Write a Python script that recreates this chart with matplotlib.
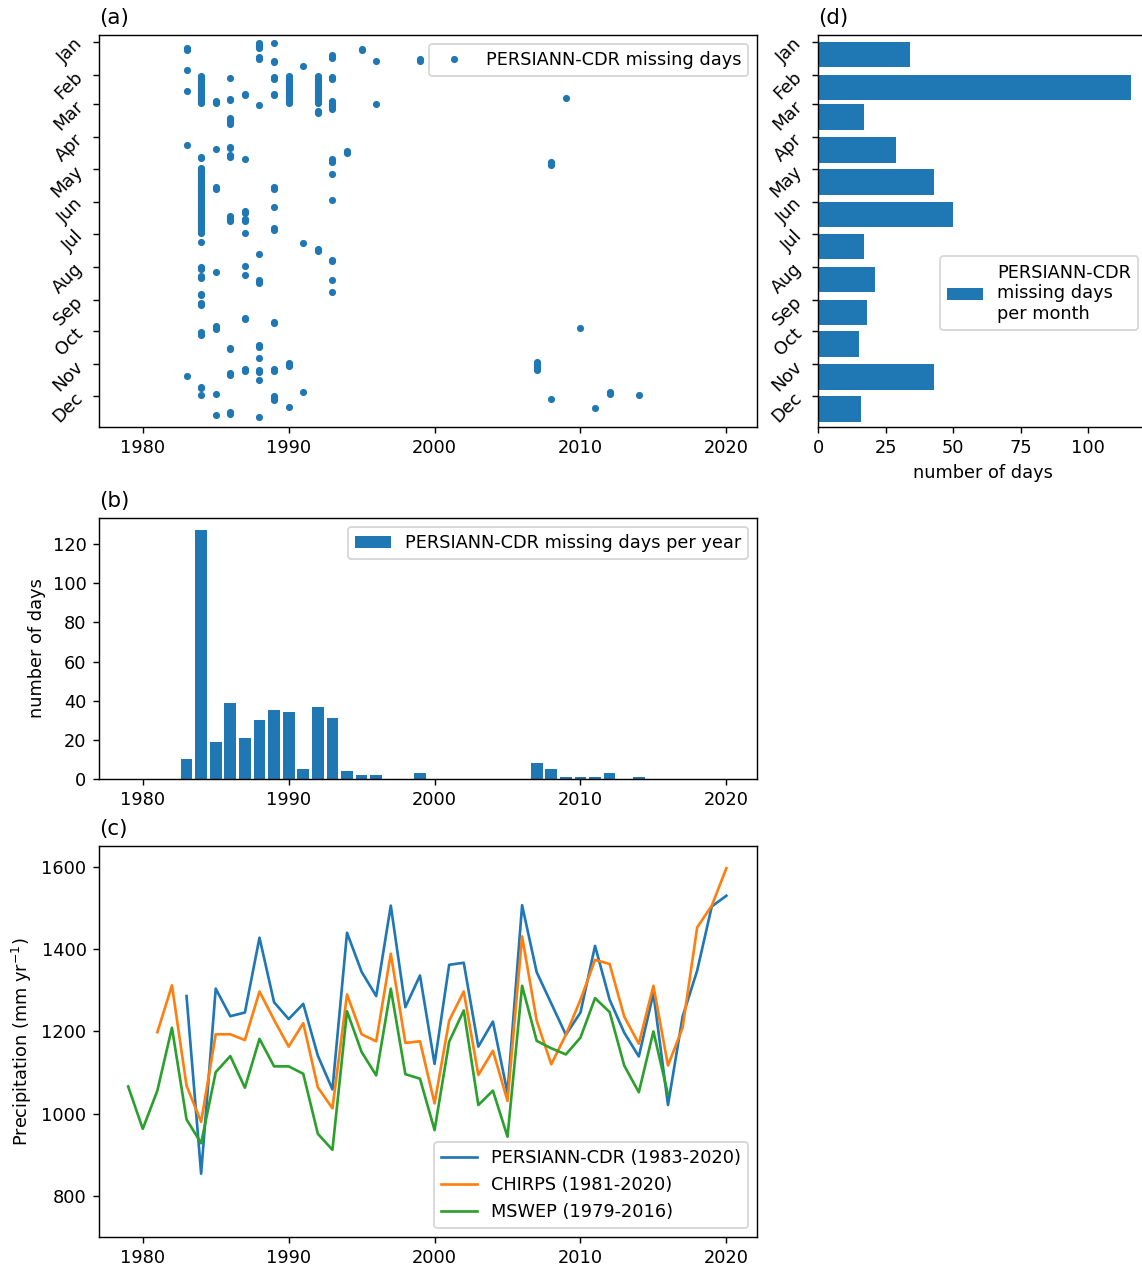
import matplotlib
matplotlib.use('Agg')
import matplotlib.pyplot as plt
import numpy as np

# ---------------- data ----------------
# (a) missing days of PERSIANN-CDR: day-of-year for each year
missing_days = {
    1983: [7, 8, 9, 28, 47, 98, 316],
    1984: [33, 34, 35, 36, 37, 38, 39, 40, 41, 42, 43, 44, 45, 46, 47, 48, 49, 50, 51, 52, 53, 54, 55, 56,
           57, 58, 59, 110, 111,
           120, 121, 122, 123, 124, 125, 126, 127, 128, 129, 130, 131, 132, 133, 134, 135, 136, 137, 138,
           139, 140, 141, 142, 143, 144, 145, 146, 147, 148, 149, 150, 151, 152, 153, 154, 155, 156, 157,
           158, 159, 160, 161, 162, 163, 164, 165, 166, 167, 168, 169, 170, 171, 172, 173, 174, 175, 176,
           177, 178, 179, 180, 181,
           190, 213, 214, 215, 222, 223, 224, 239, 240, 247, 248, 249, 275, 276, 277, 326, 327, 334],
    1985: [57, 58, 59, 102, 138, 139, 140, 218, 269, 270, 271, 272, 333, 353],
    1986: [35, 55, 56, 73, 74, 75, 76, 77, 78, 79, 100, 101, 108, 109, 110, 165, 166, 167, 168, 169, 170,
           290, 291, 313, 314, 315, 350, 351, 352],
    1987: [50, 51, 112, 161, 162, 168, 169, 170, 181, 212, 221, 261, 262, 309, 310, 311],
    1988: [2, 3, 4, 5, 6, 7, 15, 16, 17, 61, 201, 226, 227, 228, 287, 288, 289, 299, 310, 311, 312, 320, 355],
    1989: [2, 19, 20, 34, 35, 36, 50, 51, 138, 139, 140, 157, 177, 178, 265, 266, 309, 310, 311,
           335, 336, 337, 338, 339],
    1990: [33, 34, 35, 36, 37, 38, 39, 40, 41, 42, 43, 44, 45, 46, 47, 48, 49, 50, 51, 52, 53, 54, 55, 56,
           57, 58, 59, 304, 305, 306, 307, 345],
    1991: [24, 191, 331],
    1992: [33, 34, 35, 36, 37, 38, 39, 40, 41, 42, 43, 44, 45, 46, 47, 48, 49, 50, 51, 52, 53, 54, 55, 56,
           57, 58, 59, 66, 67, 68, 196, 197, 198],
    1993: [14, 15, 16, 34, 35, 36, 57, 58, 59, 60, 61, 62, 63, 64, 112, 113, 114, 126, 150, 207, 208, 226, 237],
    1994: [104, 105, 106],
    1995: [8, 9],
    1996: [19, 60],
    1999: [17, 18, 19],
    2007: [303, 304, 305, 306, 307, 308, 309, 310],
    2008: [114, 115, 116, 117, 338],
    2009: [54],
    2010: [271],
    2011: [346],
    2012: [331, 332, 333],
    2014: [334],
}

# (b) missing days per year
bar_years = [1983, 1984, 1985, 1986, 1987, 1988, 1989, 1990, 1991, 1992, 1993, 1994, 1995, 1996,
             1999, 2007, 2008, 2009, 2010, 2011, 2012, 2014]
bar_counts = [10, 127, 19, 39, 21, 30, 35, 34, 5, 37, 31, 4, 2, 2,
              3, 8, 5, 1, 1, 1, 3, 1]

# (d) missing days per month
month_labels = ['Jan', 'Feb', 'Mar', 'Apr', 'May', 'Jun', 'Jul', 'Aug', 'Sep', 'Oct', 'Nov', 'Dec']
month_start_doy = [1, 32, 60, 91, 121, 152, 182, 213, 244, 274, 305, 335]
month_counts = [34, 116, 17, 29, 43, 50, 17, 21, 18, 15, 43, 16]

# (c) annual precipitation
persiann_years = list(range(1983, 2021))
persiann_vals = [1286, 854, 1304, 1237, 1246, 1428, 1271, 1230, 1267, 1141, 1059, 1440, 1345, 1286,
                 1506, 1259, 1336, 1121, 1362, 1367, 1163, 1224, 1050, 1507, 1344, 1268, 1192, 1246,
                 1408, 1277, 1197, 1139, 1293, 1021, 1236, 1348, 1504, 1530]
chirps_years = list(range(1981, 2021))
chirps_vals = [1198, 1312, 1068, 980, 1193, 1193, 1179, 1297, 1228, 1163, 1220, 1064, 1013, 1290,
               1193, 1176, 1389, 1172, 1176, 1025, 1226, 1297, 1094, 1153, 1031, 1431, 1226, 1120,
               1192, 1277, 1374, 1364, 1236, 1170, 1311, 1117, 1209, 1453, 1506, 1597]
mswep_years = list(range(1979, 2017))
mswep_vals = [1066, 963, 1056, 1209, 986, 928, 1101, 1140, 1063, 1182, 1115, 1115, 1097, 951, 912,
              1249, 1150, 1093, 1304, 1096, 1085, 960, 1175, 1251, 1021, 1056, 944, 1311, 1177, 1159,
              1144, 1185, 1281, 1247, 1117, 1052, 1200, 1046]

# ---------------- figure ----------------
W, H, DPI = 1142, 1269, 128
fig = plt.figure(figsize=(W / DPI, H / DPI), dpi=DPI)


def rect(l, t, r, b):
    return [l / W, 1 - b / H, (r - l) / W, (b - t) / H]


XLIM = (1977.0, 2022.1)
DAY_LIM = (363.6, -5.3)

# (a)
axa = fig.add_axes(rect(99, 35, 757, 426.5))
sx, sy = [], []
for yr, days in missing_days.items():
    sx.extend([yr] * len(days))
    sy.extend(days)
axa.plot(sx, sy, '.', color='C0', label='PERSIANN-CDR missing days')
axa.set_xlim(XLIM)
axa.set_ylim(DAY_LIM)
axa.set_yticks(month_start_doy)
axa.set_yticklabels(month_labels, rotation=45)
axa.legend(loc='upper right')
axa.set_title('(a)', loc='left', fontsize=12)

# (d)
axd = fig.add_axes(rect(818, 35, 1147, 426.5))
axd.barh(month_start_doy, month_counts, height=24, align='edge', color='C0',
         label='PERSIANN-CDR\nmissing days\nper month')
axd.set_ylim(DAY_LIM)
axd.set_yticks(month_start_doy)
axd.set_yticklabels(month_labels, rotation=45)
axd.set_xlim(0, 121.8)
axd.set_xlabel('number of days')
axd.legend(loc='center right', bbox_to_anchor=(1.0, 0.34))
axd.set_title('(d)', loc='left', fontsize=12)

# (b)
axb = fig.add_axes(rect(99, 518, 757, 779))
axb.bar(bar_years, bar_counts, width=0.8, color='C0', label='PERSIANN-CDR missing days per year')
axb.set_xlim(XLIM)
axb.set_ylim(0, 133.35)
axb.set_ylabel('number of days')
axb.legend(loc='upper right')
axb.set_title('(b)', loc='left', fontsize=12)

# (c)
axc = fig.add_axes(rect(99, 846, 757, 1237))
axc.plot(persiann_years, persiann_vals, color='C0', label='PERSIANN-CDR (1983-2020)')
axc.plot(chirps_years, chirps_vals, color='C1', label='CHIRPS (1981-2020)')
axc.plot(mswep_years, mswep_vals, color='C2', label='MSWEP (1979-2016)')
axc.set_xlim(XLIM)
axc.set_ylim(700, 1651)
axc.set_ylabel('Precipitation (mm yr$^{-1}$)')
axc.legend(loc='lower right')
axc.set_title('(c)', loc='left', fontsize=12)

fig.savefig('out.png', dpi=DPI)
